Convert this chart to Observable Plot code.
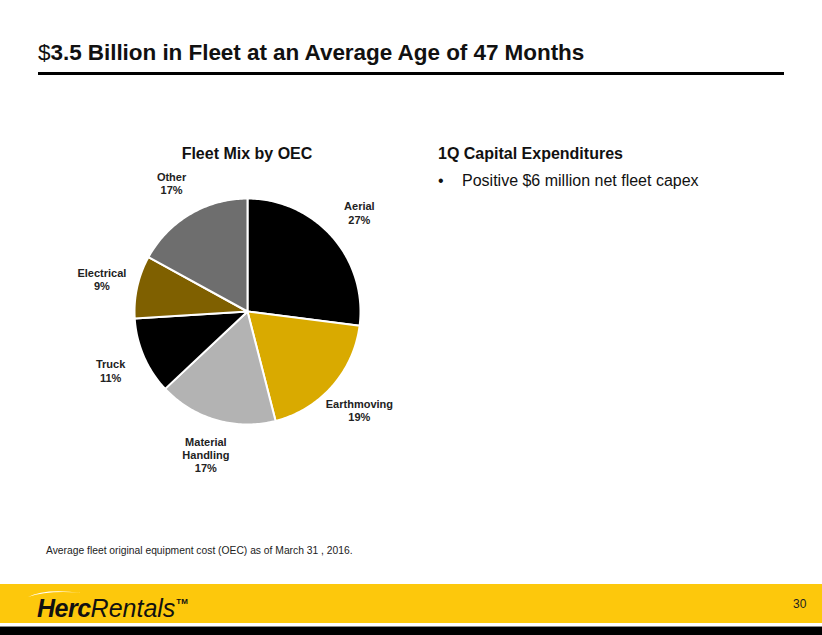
<!DOCTYPE html>
<html>
<head>
<meta charset="utf-8">
<script src="https://cdn.jsdelivr.net/npm/d3@7"></script>
<script src="https://cdn.jsdelivr.net/npm/@observablehq/plot@0.6"></script>
<style>
  html, body { margin: 0; padding: 0; background: #fff; }
  #page { position: relative; width: 822px; height: 635px; overflow: hidden; font-family: Arial, "Liberation Sans", sans-serif; }
  .abs { position: absolute; white-space: nowrap; }
  #title { left: 38px; top: 40px; font-size: 22.5px; color: #111; letter-spacing: -0.05px; }
  #rule { left: 38px; top: 72px; width: 746px; height: 3px; background: #000; }
  #pieTitle { left: 147px; top: 145px; width: 200px; text-align: center; font-size: 16px; font-weight: bold; color: #111; }
  #capTitle { left: 438px; top: 145px; font-size: 16px; font-weight: bold; color: #111; }
  #bullet { left: 438px; top: 172px; font-size: 16px; color: #111; }
  #bulletText { left: 462px; top: 172px; font-size: 16px; color: #111; }
  #note { left: 46px; top: 545px; font-size: 10.3px; color: #222; }
  #band { left: 0; top: 584px; width: 822px; height: 39px; background: #FDC80C; }
  #gap { left: 0; top: 623px; width: 822px; height: 3px; background: #fff; }
  #grey { left: 0; top: 626px; width: 822px; height: 1px; background: #888; }
  #black { left: 0; top: 627px; width: 822px; height: 8px; background: #000; }
  #logo { left: 37px; top: 594px; font-size: 25px; font-style: italic; color: #111; letter-spacing: 0px; }
  #logo b { font-weight: 900; letter-spacing: -0.5px; }
  #logo sup { font-size: 8px; font-weight: bold; font-style: normal; vertical-align: 13px; margin-left: 1px; }
  #swoosh { left: 27px; top: 588px; width: 56px; height: 10px; }
  #pageNum { left: 793px; top: 597px; font-size: 12px; color: #222; }
  #chart { left: 47px; top: 171px; }
</style>
</head>
<body>
<div id="page">
  <div class="abs" id="title">$<b>3.5 Billion in Fleet at an Average Age of 47 Months</b></div>
  <div class="abs" id="rule"></div>
  <div class="abs" id="pieTitle">Fleet Mix by OEC</div>
  <div class="abs" id="capTitle">1Q Capital Expenditures</div>
  <div class="abs" id="bullet">•</div>
  <div class="abs" id="bulletText">Positive $6 million net fleet capex</div>
  <div class="abs" id="chart"></div>
  <div class="abs" id="note">Average fleet original equipment cost (OEC) as of March 31 , 2016.</div>
  <div class="abs" id="band"></div>
  <svg class="abs" id="swoosh" viewBox="0 0 56 10"><path d="M1 9 Q18 0 55 5 Q22 2 1 9 Z" fill="#fff"/></svg>
  <div class="abs" id="logo"><b>Herc</b>Rentals<sup>TM</sup></div>
  <div class="abs" id="gap"></div>
  <div class="abs" id="grey"></div>
  <div class="abs" id="black"></div>
  <div class="abs" id="pageNum">30</div>
</div>
<script>
// ---- data ----
const categories = ["Aerial", "Earthmoving", "Material Handling", "Truck", "Electrical", "Other"];
const shares = [27, 19, 17, 11, 9, 17];
const labelLines = [["Aerial"], ["Earthmoving"], ["Material", "Handling"], ["Truck"], ["Electrical"], ["Other"]];
const colors = ["#000000", "#D9AA00", "#B3B3B3", "#000000", "#7F6000", "#6E6E6E"];

// ---- layout (derived from data) ----
const pie = d3.pie().sort(null).value(d => d)(shares);
const slicePts = [];
pie.forEach((a, i) => {
  const name = categories[i];
  slicePts.push({cat: name, x: 0, y: 0});
  const n = Math.max(8, Math.ceil((a.endAngle - a.startAngle) * 60));
  for (let k = 0; k <= n; k++) {
    const t = a.startAngle + (a.endAngle - a.startAngle) * k / n;
    slicePts.push({cat: name, x: Math.sin(t), y: Math.cos(t)});
  }
});
const labelRows = [];
pie.forEach((a, i) => {
  const mid = (a.startAngle + a.endAngle) / 2;
  const r = 1.32;
  const lines = [...labelLines[i], shares[i] + "%"];
  labelRows.push({cat: categories[i], x: Math.sin(mid) * r, y: Math.cos(mid) * r, text: lines.join("\n")});
});

const W = 400, H = 320, R = 113, CY = 140;
const chart = Plot.plot({
  width: W, height: H,
  margin: 0,
  x: {domain: [-W / 2 / R, W / 2 / R], axis: null},
  y: {domain: [-(H - CY) / R, CY / R], axis: null},
  color: {domain: categories, range: colors},
  marks: [
    Plot.line(slicePts, {x: "x", y: "y", z: "cat", fill: "cat", stroke: "white", strokeWidth: 2, curve: "linear-closed"}),
    Plot.text(labelRows, {x: "x", y: "y", text: "text", fontSize: 11, fontWeight: "bold", fill: "#222", lineHeight: 1.2, fontFamily: "Arial, 'Liberation Sans', sans-serif"})
  ]
});
document.getElementById("chart").appendChild(chart);
</script>
</body>
</html>
